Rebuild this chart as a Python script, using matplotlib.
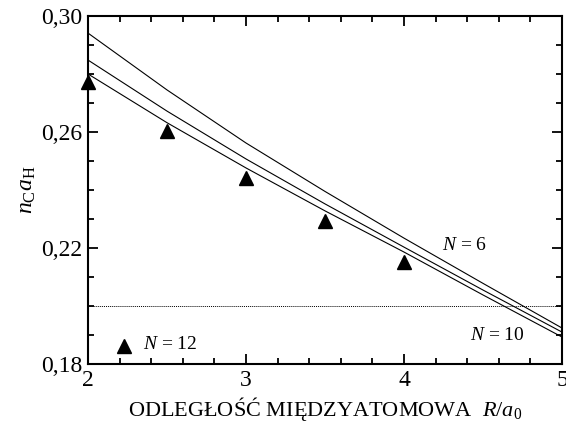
import numpy as np
import matplotlib
matplotlib.use("Agg")
import matplotlib.pyplot as plt
from matplotlib.ticker import MultipleLocator, FixedLocator, FuncFormatter

# distance R/a0 at which the curves were read
r_grid = [2.0, 2.5, 3.0, 3.5, 4.0, 4.5, 5.0]
# n_C a_H for the three curves (top = N=6, bottom = N=10)
curve_n6 = [0.2941, 0.2745, 0.2562, 0.2395, 0.2234, 0.2078, 0.1924]
curve_mid = [0.2848, 0.2672, 0.2507, 0.2352, 0.2203, 0.2055, 0.1910]
curve_n10 = [0.2800, 0.2632, 0.2476, 0.2328, 0.2186, 0.2038, 0.1893]
# N=12 points (triangles)
r_n12 = [2.0, 2.5, 3.0, 3.5, 4.0]
nc_n12 = [0.2772, 0.2603, 0.2441, 0.2293, 0.2152]
critical = 0.20
y_ticks = [0.18, 0.22, 0.26, 0.30]

plt.rcParams["font.family"] = ["Liberation Serif", "DejaVu Serif"]
plt.rcParams["mathtext.fontset"] = "custom"
plt.rcParams["mathtext.rm"] = "Liberation Serif"
plt.rcParams["mathtext.it"] = "Liberation Serif:italic"

fig = plt.figure(figsize=(5.66, 4.24), dpi=100)
ax = fig.add_axes([0.1555, 0.1415, 0.8375, 0.8208])

for ys in (curve_n6, curve_mid, curve_n10):
    ax.plot(r_grid, ys, color="black", lw=0.8)
ax.axhline(critical, color="black", lw=0.7, ls=(0, (1, 1)))
ax.plot(r_n12, nc_n12, ls="none", marker="^", ms=10, color="black", clip_on=False, zorder=4)

# in-plot legend
ax.plot([2.228], [0.1862], ls="none", marker="^", ms=10, color="black")
ax.text(2.35, 0.1868, "$N$ = 12", fontsize=14, va="center")
ax.text(4.24, 0.2207, "$N$ = 6", fontsize=14, va="center")
ax.text(4.42, 0.1897, "$N$ = 10", fontsize=14, va="center")

ax.set_xlim(2, 5)
ax.set_ylim(0.18, 0.30)
ax.xaxis.set_major_locator(MultipleLocator(1))
ax.xaxis.set_minor_locator(MultipleLocator(0.2))
ax.yaxis.set_major_locator(FixedLocator(y_ticks))
ax.yaxis.set_minor_locator(MultipleLocator(0.01))
ax.yaxis.set_major_formatter(FuncFormatter(lambda v, p: f"{v:.2f}".replace(".", ",")))
ax.tick_params(which="both", direction="in", top=True, right=True, width=1.3, labelsize=17)
ax.tick_params(which="major", length=7, pad=4)
ax.tick_params(which="minor", length=4)
for s in ax.spines.values():
    s.set_linewidth(1.5)

ax.set_xlabel(r"ODLEGŁOŚĆ MIĘDZYATOMOWA  $R/a_\mathit{0}$", fontsize=16, labelpad=3)
ax.set_ylabel(r"$n_\mathrm{C}a_\mathrm{H}$", fontsize=17, labelpad=2)

fig.savefig("out.png", dpi=100)
